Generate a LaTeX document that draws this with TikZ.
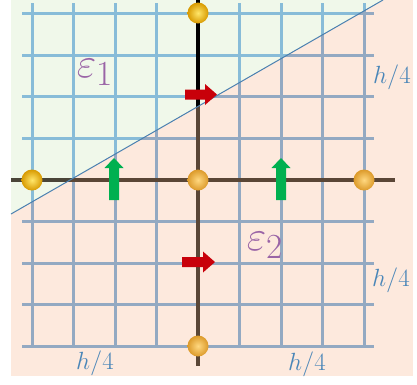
\documentclass[tikz,border=0pt]{standalone}
\usepackage{graphicx}
\begin{document}
\definecolor{pinkbg}{HTML}{FDE9DD}
\definecolor{greenbg}{HTML}{F0F8EA}
\definecolor{gridG}{HTML}{88BCD8}
\definecolor{gridP}{HTML}{93A9C2}
\definecolor{axisP}{HTML}{5A4636}
\definecolor{axisGh}{HTML}{4A4538}
\definecolor{diagc}{HTML}{4A80B0}
\definecolor{redarr}{HTML}{C8000A}
\definecolor{greenarr}{HTML}{00B050}
\definecolor{epscol}{HTML}{9A64A6}
\definecolor{hcol}{HTML}{4A86B8}
\definecolor{goldGin}{HTML}{FFE66A}
\definecolor{goldGout}{HTML}{D89A00}
\definecolor{goldPin}{HTML}{FFD880}
\definecolor{goldPout}{HTML}{DC9A2A}
\begin{tikzpicture}[x=1pt,y=-1pt,
  gridline/.style={line width=3pt},
  axisline/.style={line width=4pt},
  redarrow/.style={fill=redarr},
  greenarrow/.style={fill=greenarr},
  ballG/.style={inner color=goldGin,outer color=goldGout},
  ballP/.style={inner color=goldPin,outer color=goldPout},
  epslabel/.style={text=epscol,font=\Huge,inner sep=0pt},
  hlabel/.style={text=hcol,font=\Huge,inner sep=0pt}]
\useasboundingbox (0,0) rectangle (417,384);
\fill[white] (0,0) rectangle (417,384);
\fill[pinkbg] (11,0) rectangle (413,376);
\fill[greenbg] (11,0) -- (383,0) -- (11,214) -- cycle;
% grid + axes in green region
\begin{scope}
\clip (0,220.3) -- (417,-19.6) -- (0,-19.6) -- cycle;
\foreach \x in {32,73.5,115,156.5,198,239.5,281,322.5,364}
  \draw[gridline,gridG] (\x,3) -- (\x,348);
\foreach \y in {13.6,55.2,96.8,138.4,180,221.6,263.2,304.8,346.4}
  \draw[gridline,gridG] (22,\y) -- (374,\y);
\draw[axisline,axisGh] (11,180) -- (395,180);
\draw[axisline,black] (198,0) -- (198,366);
\end{scope}
% grid + axes in pink region
\begin{scope}
\clip (0,220.3) -- (417,-19.6) -- (417,384) -- (0,384) -- cycle;
\foreach \x in {32,73.5,115,156.5,198,239.5,281,322.5,364}
  \draw[gridline,gridP] (\x,3) -- (\x,348);
\foreach \y in {13.6,55.2,96.8,138.4,180,221.6,263.2,304.8,346.4}
  \draw[gridline,gridP] (22,\y) -- (374,\y);
\draw[axisline,axisP] (11,180) -- (395,180);
\draw[axisline,axisP] (198,0) -- (198,366);
\end{scope}
% diagonal
\coordinate (dA) at (11,214);
\coordinate (dB) at (383,0);
\draw[diagc,line width=1pt] (dA) -- (dB);
% spheres
\shade[ballG] (198,13) circle[radius=10.5pt];
\shade[ballG] (32,180) circle[radius=10.5pt];
\shade[ballP] (198,180) circle[radius=10.5pt];
\shade[ballP] (364,180) circle[radius=10.5pt];
\shade[ballP] (198,346) circle[radius=10.5pt];
% red arrows
\fill[redarrow] (185,89.5) -- (205,89.5) -- (205,84) -- (217,94.5) -- (205,105) -- (205,99.5) -- (185,99.5) -- cycle;
\fill[redarrow] (182,257) -- (203,257) -- (203,251.5) -- (215,262) -- (203,272.5) -- (203,267) -- (182,267) -- cycle;
% green arrows
\fill[greenarrow] (109,200) -- (109,168) -- (104.5,168) -- (114,158) -- (123.5,168) -- (119,168) -- (119,200) -- cycle;
\fill[greenarrow] (276,200) -- (276,168) -- (271.5,168) -- (281,158) -- (290.5,168) -- (286,168) -- (286,200) -- cycle;
% labels
\node[epslabel] (e1) at (95,72) {\scalebox{1.7}{$\varepsilon_1$}};
\node[epslabel] (e2) at (265,245) {\scalebox{1.7}{$\varepsilon_2$}};
\node[hlabel] (h1) at (392,77) {$h/4$};
\node[hlabel] (h2) at (391,280) {$h/4$};
\node[hlabel] (h3) at (95,363) {$h/4$};
\node[hlabel] (h4) at (307,364) {$h/4$};
\end{tikzpicture}
\end{document}
